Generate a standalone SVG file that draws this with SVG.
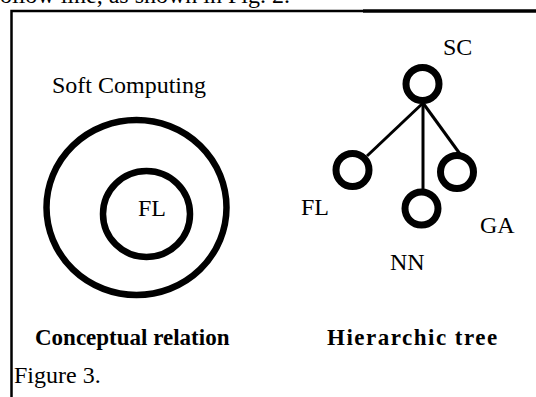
<svg xmlns="http://www.w3.org/2000/svg" width="536" height="397" viewBox="0 0 536 397">
<style>
.t{font-family:"Liberation Serif","Times New Roman",serif;font-size:24px;fill:#000}
.b{font-weight:bold;font-size:23px}
.ring{fill:none;stroke:#000;stroke-width:6.5}
.node{fill:none;stroke:#000;stroke-width:7}
.edge{stroke:#000;stroke-width:3;fill:none}
</style>
<rect width="536" height="397" fill="#fff"/>
<text class="t" x="290" y="3" text-anchor="end">ollow line, as shown in Fig. 2.</text>
<g id="frame">
<path d="M11.5 397 V11 H363" stroke="#000" stroke-width="2.5" fill="none"/>
<path d="M363 11 H536" stroke="#000" stroke-width="3.5" fill="none"/>
</g>
<g id="conceptual">
<text class="t" x="52" y="93">Soft Computing</text>
<g id="soft-computing"><ellipse class="ring" cx="136.5" cy="207.5" rx="90" ry="87.5"/></g>
<g id="fl-inner"><ellipse class="ring" cx="146.5" cy="214" rx="43.5" ry="43"/>
<text class="t" x="138" y="216">FL</text></g>
<text class="t b" x="35" y="345">Conceptual relation</text>
</g>
<g id="connectors">
<line class="edge" x1="423" y1="103" x2="367" y2="156"/>
<line class="edge" x1="423" y1="103" x2="423" y2="191"/>
<line class="edge" x1="423" y1="103" x2="460" y2="154"/>
</g>
<g id="node-sc"><circle class="node" cx="422.5" cy="84" r="16.5"/><text class="t" x="443" y="55">SC</text></g>
<g id="node-fl"><circle class="node" cx="352.5" cy="170" r="16.5"/><text class="t" x="301" y="215">FL</text></g>
<g id="node-nn"><circle class="node" cx="421.5" cy="208.5" r="16.5"/><text class="t" x="390" y="270">NN</text></g>
<g id="node-ga"><circle class="node" cx="457" cy="172" r="16.5"/><text class="t" x="480" y="233">GA</text></g>
<text class="t b" x="327" y="345" letter-spacing="1.5">Hierarchic tree</text>
<text class="t" x="14" y="383">Figure 3.</text>
</svg>
